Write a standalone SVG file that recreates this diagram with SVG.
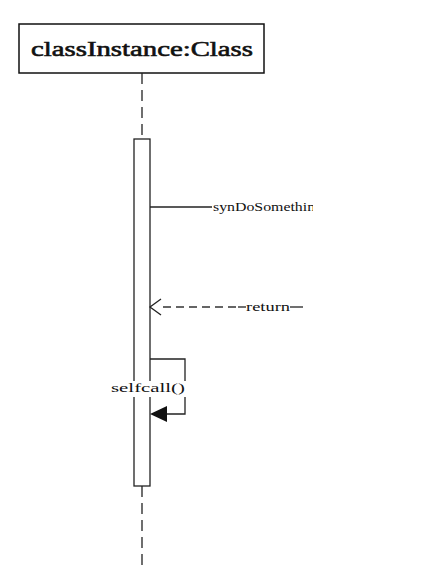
<svg xmlns="http://www.w3.org/2000/svg" width="430" height="570" viewBox="0 0 430 570">
<style>
  .ln{stroke:#222;stroke-width:1.3;fill:none}
  .dash{stroke:#222;stroke-width:1.3;fill:none;stroke-dasharray:11 6}
  .rdash{stroke:#333;stroke-width:1.3;fill:none;stroke-dasharray:8 5}
  .t{font-family:"Liberation Serif","DejaVu Serif",serif;fill:#111}
</style>
<defs>
  <clipPath id="clipMsg"><rect x="150" y="190" width="163" height="30"/></clipPath>
</defs>
<rect width="430" height="570" fill="#fff"/>
<g id="classInstance">
  <rect x="19" y="24" width="245" height="49" fill="#fff" stroke="#111" stroke-width="1.5"/>
  <text class="t" x="31" y="56" font-size="21" stroke="#111" stroke-width="0.6" textLength="222" lengthAdjust="spacingAndGlyphs">classInstance:Class</text>
</g>
<g id="lifeline">
  <line class="dash" x1="142" y1="73" x2="142" y2="139"/>
  <line class="dash" x1="142" y1="486" x2="142" y2="570"/>
</g>
<g id="activation">
  <rect x="134" y="139" width="16" height="347" fill="#fff" stroke="#222" stroke-width="1.3"/>
</g>
<g id="connectors">
  <g id="msg-synDoSomething">
    <line class="ln" x1="150" y1="207" x2="212" y2="207"/>
    <text class="t" x="213" y="211" font-size="12.5" clip-path="url(#clipMsg)" textLength="110" lengthAdjust="spacingAndGlyphs">synDoSomething</text>
  </g>
  <g id="msg-return">
    <line class="rdash" x1="163" y1="307" x2="240" y2="307"/>
    <line class="ln" x1="238" y1="307" x2="246" y2="307"/>
    <polyline class="ln" points="161,299 150,307 161,315"/>
    <text class="t" x="246" y="311" font-size="12.5" textLength="44" lengthAdjust="spacingAndGlyphs">return</text>
    <line class="ln" x1="290" y1="307" x2="303" y2="307"/>
  </g>
  <g id="msg-selfcall">
    <polyline class="ln" points="150,359 185,359 185,414 165,414"/>
    <polygon points="150,414 167,406 167,422" fill="#111"/>
    <rect x="110" y="381" width="77" height="16" fill="#fff"/>
    <text class="t" x="111" y="392" font-size="12.5" textLength="74" lengthAdjust="spacingAndGlyphs">selfcall()</text>
  </g>
</g>
</svg>
